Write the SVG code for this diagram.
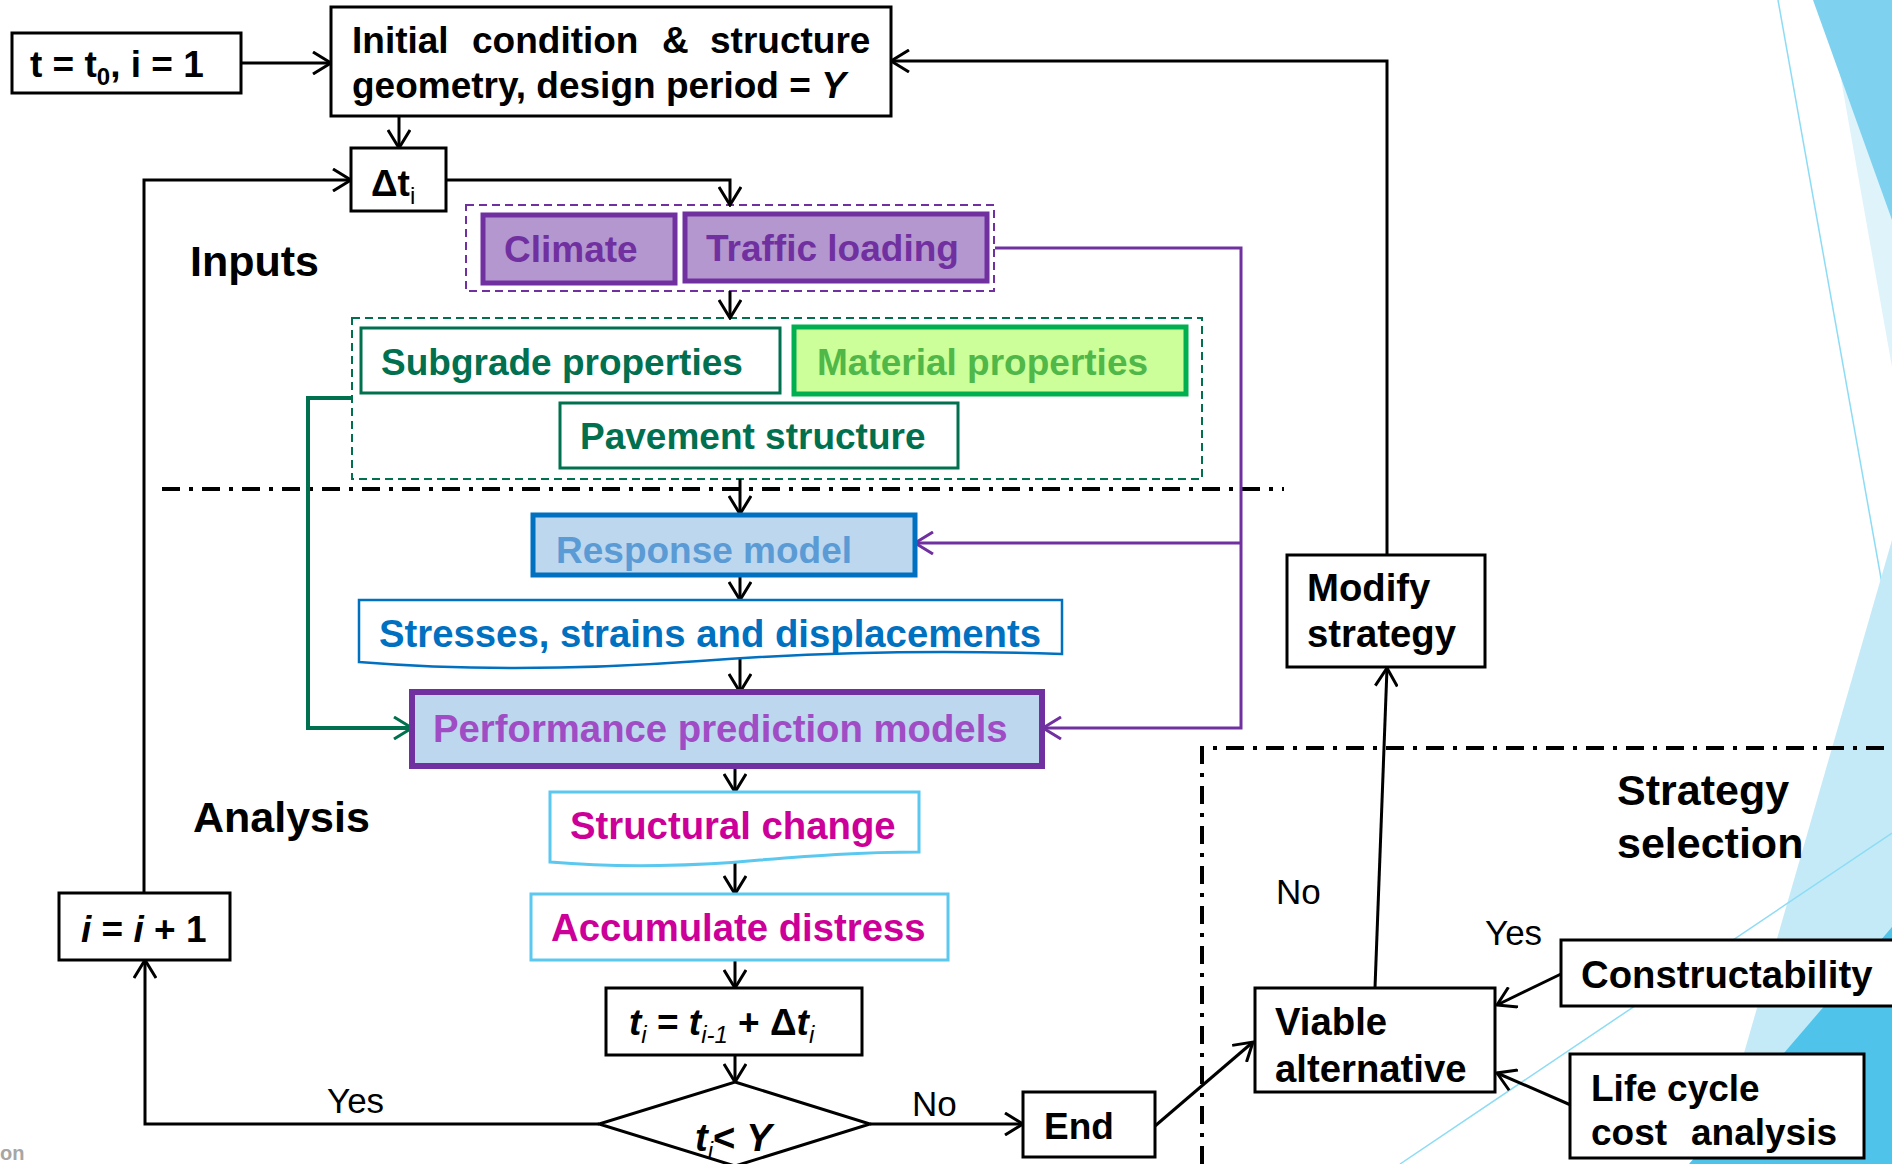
<svg xmlns="http://www.w3.org/2000/svg" width="1892" height="1164" viewBox="0 0 1892 1164">
<defs>
<style>
.box{fill:#fff;stroke:#000;stroke-width:3}
.t{font-family:"Liberation Sans",Arial,sans-serif;font-weight:bold;font-size:37px}
.big{font-size:38.3px}
.hd{font-size:43px}
.lbl{font-family:"Liberation Sans",Arial,sans-serif;font-size:35px;fill:#000}
.conn{fill:none;stroke:#000;stroke-width:3;marker-end:url(#ab)}
.pconn{fill:none;stroke:#7030a0;stroke-width:3;marker-end:url(#ap)}
.gconn{fill:none;stroke:#00704f;stroke-width:4;marker-end:url(#ag)}
.dd{fill:none;stroke:#000;stroke-width:4;stroke-dasharray:18 9 4 9}
.i{font-style:italic}
.purple{fill:#7030a0}
.teal{fill:#00704f}
</style>
<marker id="ab" markerUnits="userSpaceOnUse" markerWidth="24" markerHeight="24" viewBox="0 0 24 24" refX="22" refY="12" orient="auto"><path d="M4,1 L22,12 L4,23" fill="none" stroke="#000" stroke-width="3"/></marker>
<marker id="ap" markerUnits="userSpaceOnUse" markerWidth="24" markerHeight="24" viewBox="0 0 24 24" refX="22" refY="12" orient="auto"><path d="M4,1 L22,12 L4,23" fill="none" stroke="#7030a0" stroke-width="3"/></marker>
<marker id="ag" markerUnits="userSpaceOnUse" markerWidth="24" markerHeight="24" viewBox="0 0 24 24" refX="22" refY="12" orient="auto"><path d="M4,1 L22,12 L4,23" fill="none" stroke="#00704f" stroke-width="3"/></marker>
</defs>
<rect width="1892" height="1164" fill="#fff"/>
<g id="background">
<polygon points="1827,0 1892,0 1892,367" fill="#dff3fb"/>
<polygon points="1813,0 1892,0 1892,220" fill="#7fd2ef"/>
<line x1="1778" y1="0" x2="1892" y2="640" stroke="#8ddcf5" stroke-width="1.5"/>
<polygon points="1892,540 1892,1164 1712,1164" fill="#c4eaf7"/>
<polygon points="1892,927 1892,1164 1689,1164" fill="#50c3ea"/>
<line x1="1400" y1="1164" x2="1892" y2="833" stroke="#8ddcf5" stroke-width="1.5"/>
</g>
<g id="separators">
<path class="dd" d="M162,489 H1284"/>
<path class="dd" d="M1202,1164 V748 H1892"/>
</g>
<g id="groups">
<rect id="inputs-purple" x="466" y="205" width="528" height="86" fill="none" stroke="#7030a0" stroke-width="2" stroke-dasharray="8 5"/>
<rect id="inputs-green" x="352" y="318" width="850" height="161" fill="none" stroke="#00704f" stroke-width="2" stroke-dasharray="8 5"/>
</g>
<g id="connectors">
<path class="conn" d="M241,63 H331"/>
<path class="conn" d="M1387,554 V61 H891"/>
<path class="conn" d="M399,116 V148"/>
<path class="conn" d="M144,893 V180 H351"/>
<path class="conn" d="M446,180 H730 V205"/>
<path class="conn" d="M730,291 V318"/>
<path class="conn" d="M740,479 V514"/>
<path class="conn" d="M740,575 V600"/>
<path class="conn" d="M740,658 V692"/>
<path class="conn" d="M735,766 V792"/>
<path class="conn" d="M735,858 V894"/>
<path class="conn" d="M735,960 V988"/>
<path class="conn" d="M735,1055 V1082"/>
<path class="conn" d="M599,1124 H145 V960"/>
<path class="conn" d="M870,1124 H1023"/>
<path class="conn" d="M1155,1126 L1253,1042"/>
<path class="conn" d="M1375,988 L1387,668"/>
<path class="conn" d="M1561,974 L1497,1005"/>
<path class="conn" d="M1573,1106 L1497,1073"/>
<path class="pconn" d="M995,248 H1241 V728 H1043"/>
<path class="pconn" d="M1241,543 H915"/>
<path class="gconn" d="M352,398 H308 V728 H412"/>
</g>
<g id="n-start"><rect class="box" x="12" y="33" width="229" height="60"/><text class="t" x="30" y="77">t = t<tspan font-size="24" dy="8">0</tspan><tspan dy="-8">, i = 1</tspan></text></g>
<g id="n-init"><rect class="box" x="331" y="7" width="560" height="109"/>
<text class="t" y="53"><tspan x="352">Initial</tspan><tspan x="472">condition</tspan><tspan x="662">&amp;</tspan><tspan x="710">structure</tspan></text>
<text class="t" x="352" y="98">geometry, design period = <tspan class="i">Y</tspan></text></g>
<g id="n-dt"><rect class="box" x="351" y="148" width="95" height="63"/><text class="t" x="371" y="196">Δt<tspan font-size="24" dy="8" font-weight="normal">i</tspan></text></g>
<text class="t hd" x="190" y="276">Inputs</text>
<g id="n-climate"><rect x="483" y="215" width="192" height="68" fill="#b597cf" stroke="#7030a0" stroke-width="5"/><text class="t purple" x="504" y="262">Climate</text></g>
<g id="n-traffic"><rect x="685" y="214" width="302" height="67" fill="#b597cf" stroke="#7030a0" stroke-width="5"/><text class="t purple" x="706" y="261">Traffic loading</text></g>
<g id="n-subgrade"><rect x="361" y="328" width="419" height="65" fill="#fff" stroke="#00704f" stroke-width="3"/><text class="t teal" x="381" y="375">Subgrade properties</text></g>
<g id="n-material"><rect x="794" y="327" width="392" height="67" fill="#ccff99" stroke="#00b050" stroke-width="5"/><text class="t" x="817" y="375" style="fill:#50b848">Material properties</text></g>
<g id="n-pavement"><rect x="560" y="403" width="398" height="65" fill="#fff" stroke="#00704f" stroke-width="3"/><text class="t teal" x="580" y="449">Pavement structure</text></g>
<g id="n-response"><rect x="533" y="515" width="382" height="60" fill="#bdd7ee" stroke="#0070c0" stroke-width="5"/><text class="t" x="556" y="563" style="fill:#5b9bd5">Response model</text></g>
<g id="n-stresses"><path d="M359,600 H1062 V654 C940,650 820,652 700,661 C590,669 470,671 359,662 Z" fill="#fff" stroke="#0070c0" stroke-width="2.5"/><text class="t big" x="379" y="647" style="fill:#0070c0">Stresses, strains and displacements</text></g>
<g id="n-performance"><rect x="412" y="692" width="630" height="74" fill="#bdd7ee" stroke="#7030a0" stroke-width="6"/><text class="t big" x="433" y="742" style="fill:#a04cc4">Performance prediction models</text></g>
<text class="t hd" x="193" y="832">Analysis</text>
<g id="n-structural"><path d="M550,792 H919 V852 C860,852 810,856 760,860 C700,866 620,868 550,862 Z" fill="#fff" stroke="#5bc8f0" stroke-width="3"/><text class="t big" x="570" y="839" style="fill:#cc0099">Structural change</text></g>
<g id="n-accumulate"><rect x="531" y="894" width="417" height="66" fill="#fff" stroke="#5bc8f0" stroke-width="3"/><text class="t big" x="551" y="941" style="fill:#cc0099">Accumulate distress</text></g>
<g id="n-tupdate"><rect class="box" x="606" y="988" width="256" height="67"/><text class="t" x="629" y="1035"><tspan class="i">t</tspan><tspan class="i" font-weight="normal" font-size="24" dy="8">i</tspan><tspan dy="-8"> = </tspan><tspan class="i">t</tspan><tspan class="i" font-weight="normal" font-size="24" dy="8">i-1</tspan><tspan dy="-8"> + Δ</tspan><tspan class="i">t</tspan><tspan class="i" font-weight="normal" font-size="24" dy="8">i</tspan></text></g>
<g id="n-decision"><polygon points="735,1082 870,1124 735,1166 599,1124" fill="#fff" stroke="#000" stroke-width="3"/><text class="t big" x="695" y="1151"><tspan class="i">t</tspan><tspan class="i" font-weight="normal" font-size="24" dy="8">i</tspan><tspan dy="-8">&lt; </tspan><tspan class="i">Y</tspan></text></g>
<g id="n-incr"><rect class="box" x="59" y="893" width="171" height="67"/><text class="t" x="81" y="942"><tspan class="i">i</tspan> = <tspan class="i">i</tspan> + 1</text></g>
<g id="n-end"><rect class="box" x="1023" y="1092" width="132" height="65"/><text class="t" x="1044" y="1139">End</text></g>
<g id="n-viable"><rect class="box" x="1255" y="988" width="240" height="104"/><text class="t big" x="1275" y="1035">Viable</text><text class="t big" x="1275" y="1082">alternative</text></g>
<g id="n-modify"><rect class="box" x="1287" y="555" width="198" height="112"/><text class="t big" x="1307" y="601">Modify</text><text class="t big" x="1307" y="647">strategy</text></g>
<g id="n-constructability"><rect class="box" x="1561" y="940" width="345" height="66"/><text class="t big" x="1581" y="988">Constructability</text></g>
<g id="n-lifecycle"><rect class="box" x="1570" y="1054" width="294" height="104"/><text class="t" x="1591" y="1101">Life cycle</text><text class="t" y="1145"><tspan x="1591">cost</tspan><tspan x="1691">analysis</tspan></text></g>
<g id="labels">
<text class="t hd" x="1617" y="805">Strategy</text>
<text class="t hd" x="1617" y="858">selection</text>
<text class="lbl" x="327" y="1113">Yes</text>
<text class="lbl" x="912" y="1116">No</text>
<text class="lbl" x="1276" y="904">No</text>
<text class="lbl" x="1485" y="945">Yes</text>
<text x="0" y="1160" font-family="Liberation Sans, Arial, sans-serif" font-weight="bold" font-size="20" fill="#a6a6a6">on</text>
</g>
</svg>
